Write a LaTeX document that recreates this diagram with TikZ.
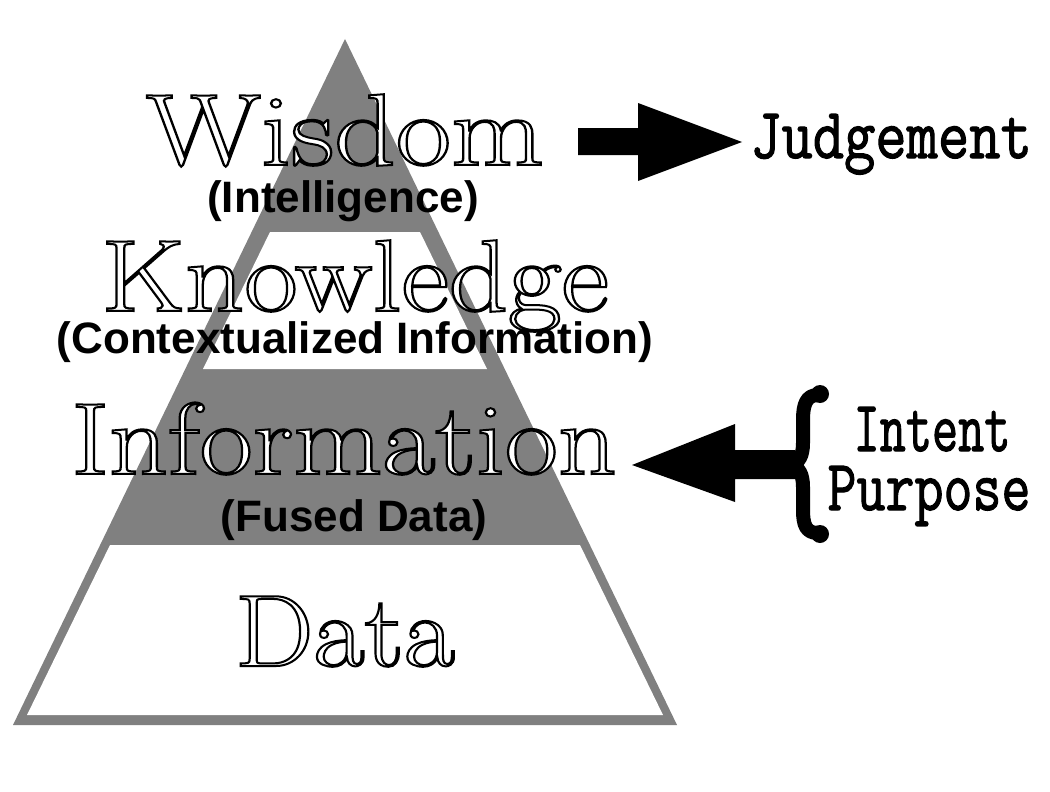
\documentclass[tikz,border=0pt]{standalone}
\usepackage{fontspec}
\newfontfamily\subfont{Liberation Sans}
\definecolor{pyrcol}{RGB}{128,128,128}
\newcommand\outlinetext[1]{{\color{white}\special{pdf:literal direct 0 G 2 Tr 2 w}#1\special{pdf:literal direct 0 Tr 1 w}}}
\newcommand\boldtext[1]{{\special{pdf:literal direct 0 G 2 Tr 1.2 w}#1\special{pdf:literal direct 0 Tr 1 w}}}
\tikzset{
  bigword/.style={font=\fontsize{102}{110}\selectfont, inner sep=0pt, anchor=base},
  subword/.style={font={\subfont\bfseries\fontsize{44}{50}\selectfont}, inner sep=0pt, anchor=base},
  sideword/.style={font={\ttfamily\fontsize{72}{80}\selectfont}, inner sep=0pt, anchor=base},
  layergray/.style={fill=pyrcol},
  layerwhite/.style={fill=white},
  blockarrow/.style={fill=black},
}
\begin{document}
\begin{tikzpicture}[x=1pt,y=-1pt]
\useasboundingbox (0,0) rectangle (1050,792);
\fill[white] (0,0) rectangle (1050,792);
% pyramid
\fill[layergray] (345,39) -- (677,725) -- (13,725) -- cycle;
\fill[layerwhite] (270,232) -- (420,232) -- (487,369) -- (203,369) -- cycle;
\fill[layerwhite] (110,545) -- (580,545) -- (663,715) -- (27,715) -- cycle;
% words
\node[bigword, xscale=1.18] (wisdom) at (345,165) {\outlinetext{Wisdom}};
\node[subword] (intel) at (343,212) {(Intelligence)};
\node[bigword, xscale=1.14] (knowledge) at (355,311) {\outlinetext{Knowledge}};
\node[subword] (context) at (355,353) {(Contextualized Information)};
\node[bigword, xscale=1.13] (information) at (344,474) {\outlinetext{Information}};
\node[subword] (fused) at (354,531) {(Fused Data)};
\node[bigword, xscale=1.09] (data) at (345,666) {\outlinetext{Data}};
% right side
\fill[blockarrow] (578,128) -- (638,128) -- (638,103) -- (742,142) -- (638,181) -- (638,155) -- (578,155) -- cycle;
\node[sideword, xscale=0.844] (judge) at (891,158) {\boldtext{Judgement}};
\fill[blockarrow] (632,465) -- (735,424) -- (735,450) -- (795,450) -- (795,479) -- (735,479) -- (735,502) -- cycle;
\draw[line width=14pt, line cap=round, line join=round]
  (818,395) .. controls (806,395) and (803,405) .. (803,420) -- (803,443)
  .. controls (803,456) and (799,462) .. (792,465)
  .. controls (799,468) and (803,474) .. (803,487) -- (803,510)
  .. controls (803,525) and (806,533) .. (818,533);
\fill (820,394) circle (9);
\fill (820,534) circle (9);
\node[sideword, xscale=0.705] (intent) at (932,451) {\boldtext{Intent}};
\node[sideword, xscale=0.782] (purpose) at (929,510) {\boldtext{Purpose}};
\end{tikzpicture}
\end{document}
